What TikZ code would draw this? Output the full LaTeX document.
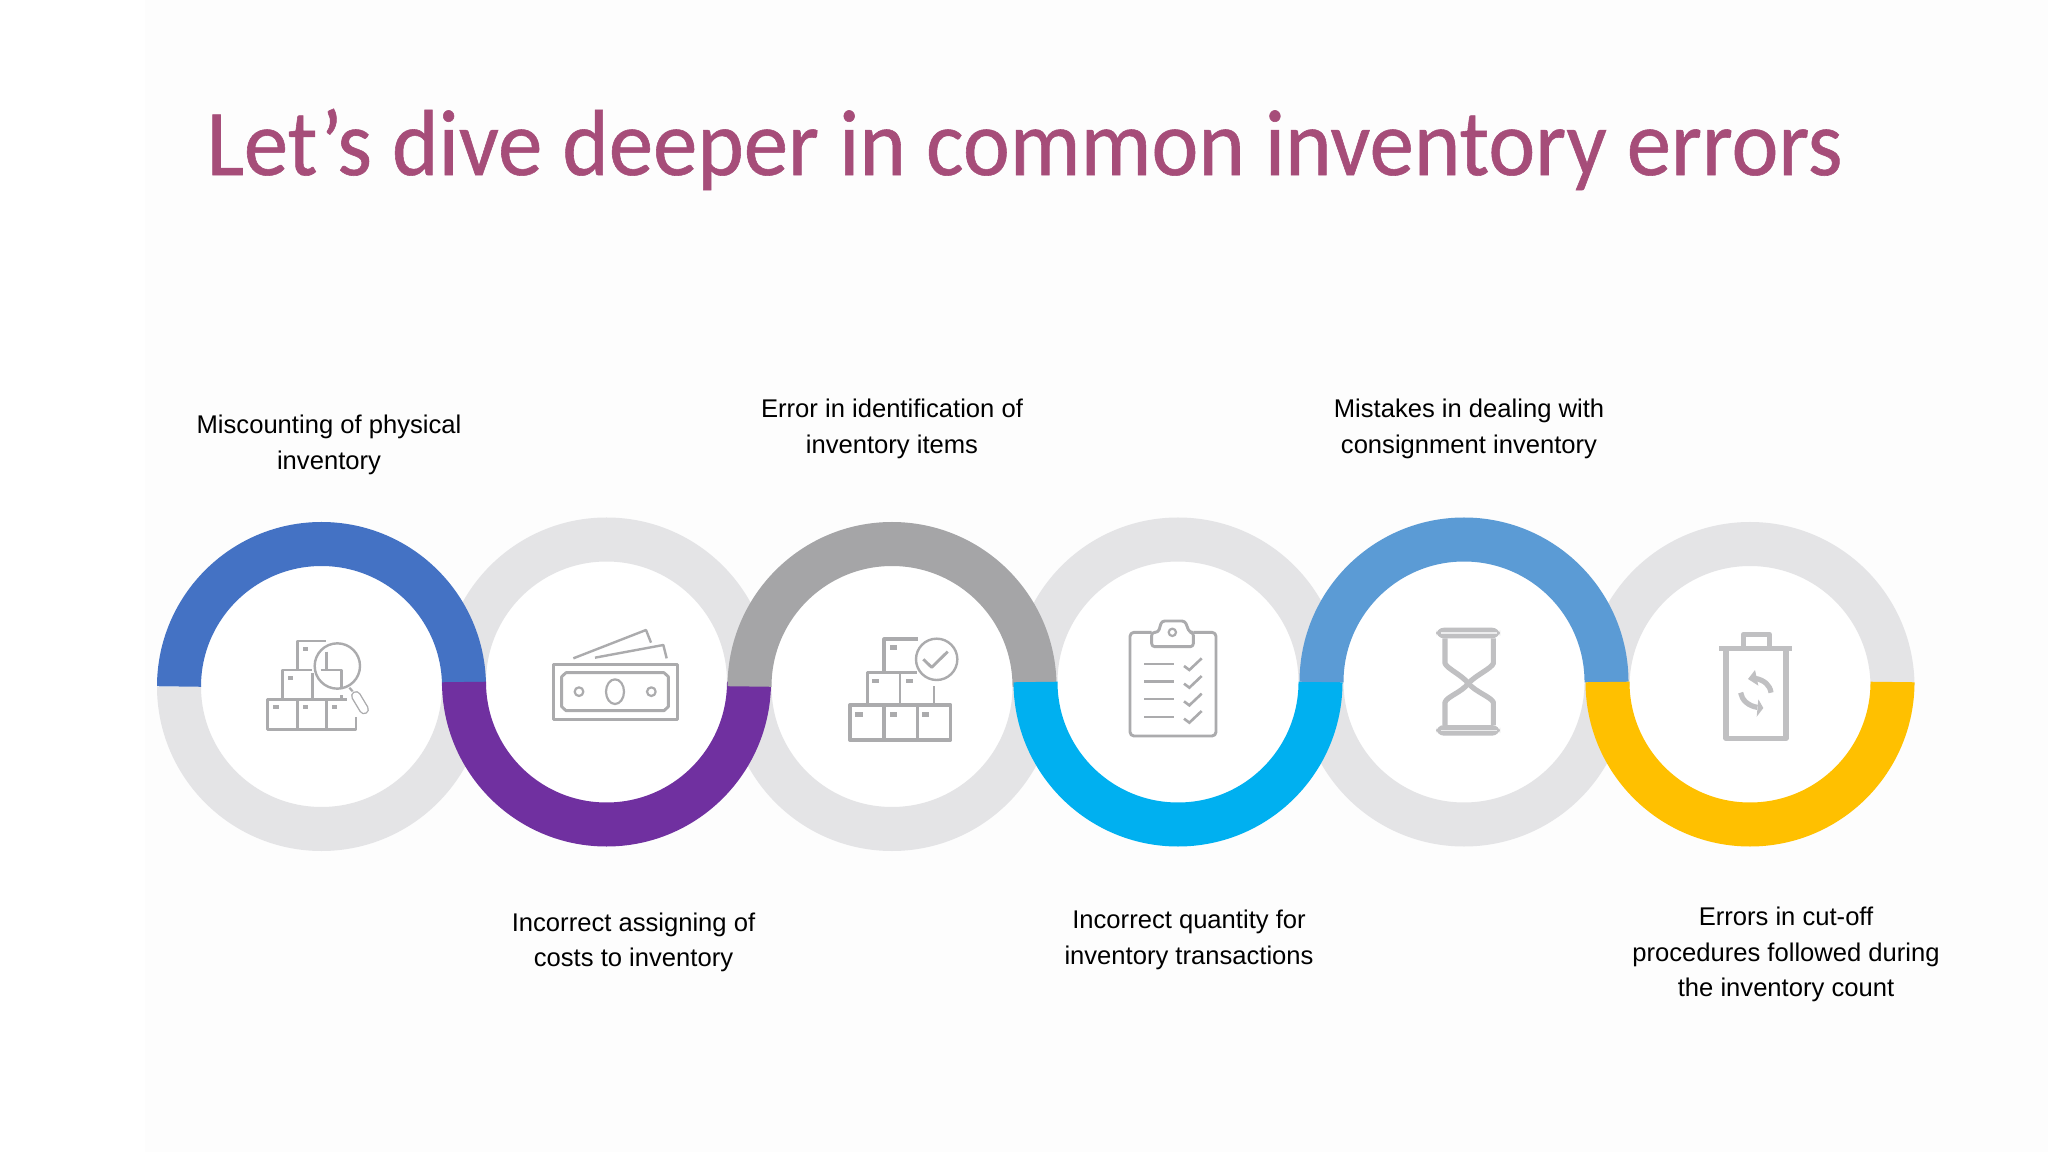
\documentclass[tikz,border=0pt]{standalone}
\usepackage{fontspec}
\setmainfont{Liberation Sans}
\newfontfamily\titlefont[FakeStretch=0.944,FakeBold=0.6]{Carlito}
\definecolor{ringlight}{HTML}{E4E4E6}
\definecolor{ringblue}{HTML}{4472C4}
\definecolor{ringpurple}{HTML}{7030A0}
\definecolor{ringgray}{HTML}{A5A5A7}
\definecolor{ringcyan}{HTML}{00B0F0}
\definecolor{ringsky}{HTML}{5B9BD5}
\definecolor{ringgold}{HTML}{FFC000}
\definecolor{titlecol}{HTML}{A64D79}
\definecolor{iconcol}{HTML}{ABABAD}
\definecolor{iconsoft}{HTML}{C0C0C2}
\definecolor{pagetint}{HTML}{FDFDFD}
\tikzset{
  band/.style={line width=22pt,line cap=butt},
  icon/.style={draw=iconcol,line width=1.45pt,line join=round},
  iconthin/.style={draw=iconcol,line width=1.1pt,line join=round},
  iconfat/.style={draw=iconsoft,line width=2.6pt,line join=round},
  label/.style={align=center,font=\fontsize{12.8}{17.7}\selectfont,text=black,inner sep=0pt},
}
\newcommand{\halfup}[3]{\draw[band,#1] (#2-142.5,#3) arc[start angle=180,end angle=0,radius=142.5];}
\newcommand{\halfdown}[3]{\draw[band,#1] (#2-142.5,#3) arc[start angle=180,end angle=360,radius=142.5];}
\begin{document}
\begin{tikzpicture}[x=0.5pt,y=0.5pt]
\useasboundingbox (0,0) rectangle (2048,1152);
\fill[white] (0,0) rectangle (2048,1152);
\fill[pagetint] (145,0) rectangle (2048,1152);

% white centres
\foreach \cx/\cy in {321.5/465.5,606.5/470,892/465.5,1178/470,1464/470,1750/468}
  \fill[white] (\cx,\cy) circle[radius=124];

% light parts of the rings
\halfdown{ringlight}{321.5}{465.5}
\halfup{ringlight}{606.5}{470}
\halfdown{ringlight}{892}{465.5}
\halfup{ringlight}{1178}{470}
\halfdown{ringlight}{1464}{470}
\halfup{ringlight}{1750}{465.5}

% coloured parts
\halfup{ringblue}{321.5}{465.5}
\halfdown{ringpurple}{606.5}{470}
\fill[ringpurple] (727,465.5) rectangle (771,470);
\halfup{ringgray}{892}{465.5}
\halfdown{ringcyan}{1178}{470}
\halfup{ringsky}{1464}{470}
\halfdown{ringgold}{1750}{470}

% title and labels
\node[text=titlecol,font=\titlefont\fontsize{47}{50}\selectfont,inner sep=0pt] (title) at (1024.5,1002.5) {Let’s dive deeper in common inventory errors};
\node[label] (l1) at (329,707) {Miscounting of physical\\inventory};
\node[label] (l2) at (633.5,209.5) {Incorrect assigning of\\costs to inventory};
\node[label] (l3) at (892,723) {Error in identification of\\inventory items};
\node[label] (l4) at (1189,212) {Incorrect quantity for\\inventory transactions};
\node[label] (l5) at (1469,723) {Mistakes in dealing with\\consignment inventory};
\node[label] (l6) at (1786,197.5) {Errors in cut-off\\procedures followed during\\the inventory count};

% icon 1: boxes with magnifier
\begin{scope}[shift={(250,532)},x=0.16667pt,y=-0.16667pt]
  \draw[icon] (142,150)--(142,63)--(228,63);
  \draw[icon] (230,95)--(230,150);
  \draw[icon] (97,238)--(97,150)--(185,150);
  \draw[icon] (212,150)--(275,150)--(275,205);
  \draw[icon] (187,160)--(187,238);
  \draw[icon] (275,225)--(275,238);
  \draw[icon] (290,238)--(52,238)--(52,328)--(318,328)--(318,290);
  \draw[icon] (142,238)--(142,328) (230,238)--(230,328);
  \draw[iconthin,line width=1.2pt] (262,138) circle[radius=68];
  \draw[iconthin] (298,203)--(308,214);
  \draw[iconcol,line width=5pt,line cap=round] (318,228)--(342,268);
  \draw[white,line width=3.6pt,line cap=round] (318,228)--(342,268);
  \foreach \p in {(166,87),(122,174),(78,261),(166,261),(254,261)}
    \fill[iconcol,shift={\p}] (-8,-6) rectangle (8,6);
\end{scope}

% icon 2: banknotes
\begin{scope}[shift={(540,532)},x=0.16667pt,y=-0.16667pt]
  \draw[icon,line width=1.8pt] (40,133) rectangle (412,298);
  \draw[icon] (78,158)--(372,158)--(385,170)--(385,260)--(372,272)--(78,272)--(65,260)--(65,170)--cycle;
  \draw[iconthin] (225,215) ellipse[x radius=27,y radius=37];
  \draw[iconthin] (117,215) circle[radius=13] (334,215) circle[radius=13];
  \draw[iconthin,line width=1.2pt] (100,115)--(318,30)--(333,68);
  \draw[iconthin,line width=1.2pt] (165,113)--(370,75)--(380,115);
\end{scope}

% icon 3: boxes with check
\begin{scope}[shift={(835,527)},x=0.16667pt,y=-0.16667pt]
  \draw[icon,line width=1.6pt] (147,140)--(147,42)--(248,42);
  \draw[icon] (97,238)--(97,143)--(245,143);
  \draw[icon] (195,143)--(195,238) (297,183)--(297,238);
  \draw[icon,line width=1.7pt] (45,240) rectangle (347,345);
  \draw[icon,line width=1.6pt] (147,240)--(147,345) (247,240)--(247,345);
  \draw[iconthin,line width=1.2pt] (305,103) circle[radius=62];
  \draw[icon] (265,103)--(290,127)--(338,80);
  \foreach \p in {(175,68),(122,168),(224,168),(72,268),(175,268),(272,268)}
    \fill[iconcol,shift={\p}] (-11,-7) rectangle (11,7);
\end{scope}

% icon 4: clipboard
\begin{scope}[shift={(1110,542)},x=0.16667pt,y=-0.16667pt]
  \draw[icon,rounded corners=2pt] (125,67)--(60,67)--(60,378)--(318,378)--(318,67)--(250,67);
  \draw[icon,rounded corners=1.5pt] (125,67)--(125,110)--(250,110)--(250,67)--(238,67)--(225,33)--(155,33)--(145,67)--cycle;
  \draw[iconthin] (187,67) circle[radius=11];
  \foreach \yy/\w in {162/1.1,215/1.4,268/1.1,320/0.9}{
    \draw[iconcol,line width=\w pt] (102,\yy)--(192,\yy);
    \draw[iconcol,line width=1.3pt] (222,\yy+6)--(238,\yy+18)--(275,\yy-17);
  }
\end{scope}

% icon 5: hourglass
\begin{scope}[shift={(1400,537)},x=0.16667pt,y=-0.16667pt]
  \fill[iconsoft,rounded corners=4pt] (108,38) rectangle (300,70);
  \fill[iconsoft,rounded corners=4pt] (108,330) rectangle (300,362);
  \draw[white!70!iconsoft,line width=0.8pt] (122,54)--(290,54) (122,346)--(290,346);
  \draw[iconfat] (135,70)--(135,145) .. controls (140,160) and (185,180) .. (205,205) .. controls (228,232) and (272,245) .. (280,262)--(280,330);
  \draw[iconfat] (280,70)--(280,145) .. controls (275,160) and (228,180) .. (205,205) .. controls (185,232) and (140,245) .. (135,262)--(135,330);
\end{scope}

% icon 6: bin with arrows
\begin{scope}[shift={(1690,532)},x=0.16667pt,y=-0.16667pt]
  \fill[iconsoft] (87,78) rectangle (305,92);
  \draw[iconfat] (160,78)--(160,43)--(238,43)--(238,78);
  \draw[iconfat] (108,92)--(108,355)--(288,355)--(288,92);
  \draw[iconsoft,line width=2.6pt] (243,218) .. controls (240,195) and (222,180) .. (195,175);
  \fill[iconsoft] (195,150)--(174,177)--(205,197)--cycle;
  \draw[iconsoft,line width=2.6pt] (152,218) .. controls (155,240) and (175,258) .. (202,262);
  \fill[iconsoft] (205,238)--(220,264)--(200,290)--cycle;
\end{scope}
\end{tikzpicture}
\end{document}
